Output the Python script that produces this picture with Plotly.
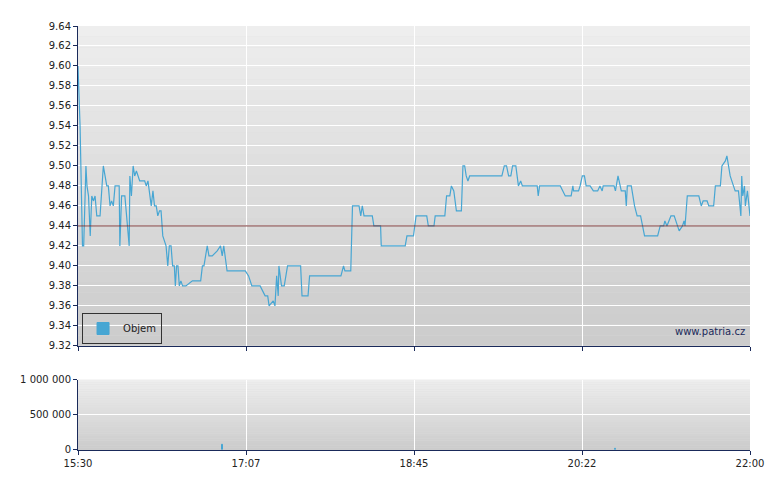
import plotly.graph_objects as go
from plotly.subplots import make_subplots

# minutes after 15:30 and price
minutes = [0, 1.2, 2.6, 3.3, 4.6, 5.2, 6.1, 7.1, 8.0, 9.0, 9.9, 10.9, 12.8, 13.8, 14.7, 16.7, 17.6, 18.6,
           19.5, 20.5, 21.5, 22.4, 23.9, 24.3, 25.3, 27.2, 28.1, 29.1, 29.7, 30.1, 31.0, 32.0, 32.9,
           33.9, 35.8, 38.7, 39.6, 40.6, 41.5, 42.5, 43.5, 44.4, 45.4, 46.3, 47.3, 48.2, 49.2, 51.1,
           52.1, 53.0, 54.0, 54.9, 55.9, 56.5, 57.2, 58.0, 58.8, 59.7, 60.7, 62.6, 66.4, 71.2, 72.2,
           73.1, 75.0, 76.0, 77.9, 80.8, 82.7, 83.7, 84.6, 86.5, 87.5, 97.1, 99.0, 100.9, 105.7,
           108.6, 110.1, 110.9, 113.3, 114.3, 115.3, 116.2, 116.6, 118.1, 119.7, 121.6, 129.2,
           130.0, 133.5, 134.4, 152.6, 154.1, 154.9, 158.3, 159.3, 163.1, 164.1, 165.0, 166.0,
           170.8, 171.7, 175.6, 176.0, 189.9, 190.9, 194.7, 196.2, 202.4, 203.3, 206.6, 207.3,
           212.9, 213.9, 215.8, 216.7, 218.1, 219.6, 222.5, 223.4, 224.4, 225.3, 226.3, 227.3,
           246.0, 247.4, 248.7, 249.9, 251.2, 252.2, 254.1, 255.6, 256.9, 257.9, 266.5, 267.1,
           267.9, 279.9, 282.8, 286.2, 287.2, 287.6, 290.5, 291.4, 292.7, 293.9, 294.9, 297.2,
           299.1, 301.6, 302.9, 304.2, 304.8, 311.1, 311.9, 313.4, 314.4, 315.3, 317.6, 318.2,
           318.8, 321.1, 323.0, 324.5, 326.5, 328.8, 336.4, 337.9, 339.9, 340.6, 341.8, 344.1,
           346.0, 347.9, 348.9, 350.8, 351.7, 352.3, 353.6, 360.3, 361.7, 362.8, 365.1, 366.1,
           368.9, 369.9, 372.8, 373.7, 375.7, 376.6, 377.6, 378.5, 380.4, 381.4, 383.3, 383.9,
           384.7, 385.2, 385.8, 386.8, 387.3, 388.5, 389.6, 390]
prices = [9.60, 9.54, 9.42, 9.42, 9.50, 9.48, 9.47, 9.43, 9.47, 9.465, 9.47, 9.45, 9.45, 9.48, 9.50,
          9.48, 9.48, 9.46, 9.465, 9.46, 9.48, 9.48, 9.48, 9.42, 9.47, 9.47, 9.45, 9.43, 9.42,
          9.49, 9.47, 9.50, 9.49, 9.495, 9.485, 9.485, 9.48, 9.485, 9.47, 9.46, 9.475, 9.46,
          9.46, 9.45, 9.455, 9.455, 9.43, 9.42, 9.40, 9.42, 9.42, 9.40, 9.40, 9.38, 9.40, 9.40,
          9.38, 9.385, 9.38, 9.38, 9.385, 9.385, 9.40, 9.40, 9.42, 9.41, 9.41, 9.415, 9.42,
          9.41, 9.42, 9.395, 9.395, 9.395, 9.39, 9.38, 9.38, 9.37, 9.37, 9.36, 9.365, 9.36,
          9.39, 9.37, 9.40, 9.38, 9.38, 9.40, 9.40, 9.37, 9.37, 9.39, 9.39, 9.40, 9.395, 9.395,
          9.46, 9.46, 9.45, 9.46, 9.45, 9.45, 9.44, 9.44, 9.42, 9.42, 9.43, 9.43, 9.45, 9.45,
          9.44, 9.44, 9.45, 9.45, 9.47, 9.47, 9.48, 9.475, 9.455, 9.455, 9.50, 9.50, 9.49,
          9.485, 9.49, 9.49, 9.50, 9.50, 9.49, 9.49, 9.50, 9.50, 9.48, 9.485, 9.48, 9.48, 9.47,
          9.48, 9.48, 9.47, 9.47, 9.48, 9.475, 9.475, 9.48, 9.49, 9.49, 9.48, 9.48, 9.475,
          9.475, 9.48, 9.475, 9.48, 9.48, 9.475, 9.49, 9.48, 9.475, 9.475, 9.46, 9.48, 9.48,
          9.46, 9.45, 9.45, 9.43, 9.43, 9.44, 9.44, 9.445, 9.44, 9.45, 9.45, 9.44, 9.435, 9.44,
          9.445, 9.44, 9.47, 9.47, 9.46, 9.465, 9.465, 9.46, 9.46, 9.48, 9.48, 9.50, 9.505,
          9.51, 9.50, 9.49, 9.48, 9.475, 9.475, 9.46, 9.45, 9.49, 9.47, 9.48, 9.46, 9.475,
          9.46, 9.45]
reference_price = 9.44

volume_minutes = [84.0, 312.0]
volume = [70000, 15000]

tick_vals = [0, 97.5, 195, 292.5, 390]
tick_text = ["15:30", "17:07", "18:45", "20:22", "22:00"]

fig = make_subplots(rows=2, cols=1, row_heights=[0.82, 0.18], vertical_spacing=0.08)

# grey gradient background
n = 30
for yd in ["y domain", "y2 domain"]:
    xr = "x domain" if yd == "y domain" else "x2 domain"
    for i in range(n):
        c = int(238 - (238 - 204) * i / (n - 1))
        fig.add_shape(type="rect", xref=xr, yref=yd, x0=0, x1=1,
                      y0=1 - (i + 1) / n, y1=1 - i / n, line_width=0,
                      fillcolor=f"rgb({c},{c},{c})", layer="below")

fig.add_trace(go.Scatter(x=minutes, y=prices, mode="lines", showlegend=False,
                         line=dict(color="#47a6d3", width=1.2)), row=1, col=1)
fig.add_hline(y=reference_price, line=dict(color="#7a3a3a", width=1), row=1, col=1)

fig.add_trace(go.Bar(x=volume_minutes, y=volume, name="Objem", width=0.8,
                     marker=dict(color="#47a6d3", line=dict(color="#47a6d3", width=1))),
              row=2, col=1)

axis_style = dict(showgrid=True, gridcolor="white", gridwidth=1.3,
                  showline=True, linecolor="#1a2a5a", linewidth=1,
                  ticks="outside", tickcolor="#1a2a5a", ticklen=4, zeroline=False)
fig.update_xaxes(range=[0, 390], tickvals=tick_vals, ticktext=tick_text, **axis_style)
fig.update_xaxes(showticklabels=False, row=1, col=1)
fig.update_yaxes(range=[9.32, 9.64], dtick=0.02, tickformat=".2f", **axis_style, row=1, col=1)
fig.update_yaxes(range=[0, 1000000], tickvals=[0, 500000, 1000000],
                 ticktext=["0", "500 000", "1 000 000"], **axis_style, row=2, col=1)

fig.add_annotation(text="www.patria.cz", x=0.995, y=0.02, xref="x domain", yref="y domain",
                   xanchor="right", yanchor="bottom", showarrow=False,
                   font=dict(size=10, color="#1a2a5a"))

fig.update_layout(
    width=780, height=490,
    margin=dict(l=63, r=38, t=17, b=48),
    paper_bgcolor="white", plot_bgcolor="#dddddd",
    font=dict(family="DejaVu Sans", size=10, color="#222"),
    showlegend=True,
    legend=dict(x=0.006, y=0.25, xanchor="left", yanchor="bottom",
                bgcolor="rgba(0,0,0,0)", bordercolor="#333", borderwidth=1,
                itemwidth=30, font=dict(size=10)),
    bargap=0,
)

fig.write_html("out.html")
